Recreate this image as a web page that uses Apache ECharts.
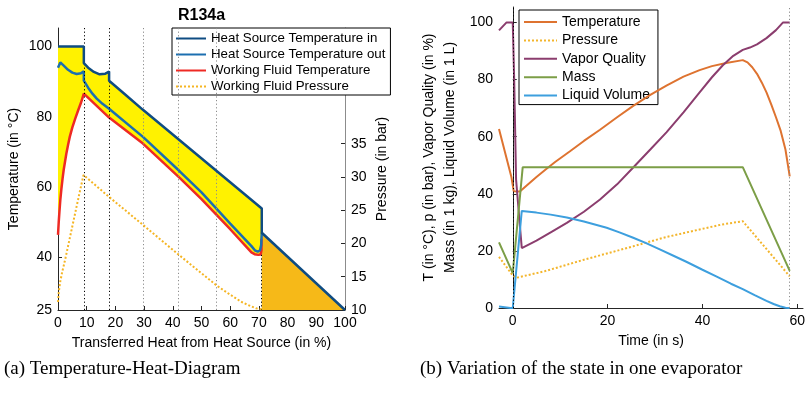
<!DOCTYPE html>
<html>
<head>
<meta charset="utf-8">
<script src="https://cdn.jsdelivr.net/npm/echarts@6/dist/echarts.min.js"></script>
<style>
  html, body { margin: 0; padding: 0; background: #fff; }
  #main { width: 811px; height: 395px; }
</style>
</head>
<body>
<div id="main"></div>
<script>
// ---------- (a) Temperature-Heat-Diagram ----------
// heat source temperature in (x in %, T in °C)
var inX = [0, 9, 9, 10.5, 12.5, 14.5, 16.5, 17.8, 17.8, 23.5, 29.6, 71, 71, 100];
var inT = [100, 100, 95.3, 94.0, 92.8, 92.1, 92.3, 92.9, 90.3, 86.3, 82.0, 53.9, 47.0, 25];
// heat source temperature out
var outX = [0, 0.8, 2, 3.5, 5, 6.5, 8, 9, 9, 10.5, 12, 13.5, 15.5, 17.8, 29.6, 42.4, 50, 60, 67.4, 68.6, 69.6, 70.4, 70.8, 71];
var outT = [94.0, 95.5, 94.6, 93.4, 92.6, 92.2, 92.4, 93.0, 90.3, 88.3, 86.6, 85.2, 83.7, 82.3, 74.3, 64.5, 58.5, 49.6, 43.2, 42.0, 41.6, 42.0, 43.5, 47.0];
// working fluid temperature
var wfX = [0, 0.25, 0.5, 0.8, 1.2, 1.6, 2, 2.5, 2.9, 3.5, 4.1, 5, 6, 7, 8, 9, 17.8, 29.6, 42.4, 50, 60, 67.4, 68.5, 69.8, 70.6, 70.9, 70.9];
var wfT = [46.4, 50, 53, 56.3, 59.6, 62.5, 65, 67.5, 69.5, 72, 74.3, 77, 79.5, 81.8, 84, 86.6, 79.8, 72.4, 62.6, 56.6, 48.0, 41.4, 40.9, 40.7, 40.8, 42, 45.3];
// working fluid pressure (bar)
var wpX = [0, 0.3, 0.8, 1.5, 2.3, 3.5, 5.2, 6.5, 7.6, 8.9, 17.8, 29.6, 41.8, 55.2, 60, 64, 67, 69, 71];
var wpP = [11.2, 12.8, 14.3, 15.8, 17.2, 19.6, 23.0, 25.6, 27.8, 30.3, 27.0, 22.8, 18.4, 13.7, 12.3, 11.2, 10.6, 10.25, 10.1];
// section boundaries
var blackMarks = [9, 17.8];
var grayMarks = [29.6, 41.8, 55.2];
var endMark = 70.9;
var tempTicks = [25, 40, 60, 80, 100];
var presTicks = [10, 15, 20, 25, 30, 35];

// ---------- (b) Variation of the state in one evaporator ----------
var tempTime = [-2.9, -0.3, 0.2, 1.5, 3, 5, 7, 9, 12, 15, 18.4, 22, 25.4, 29, 32.4, 36, 39.4, 42, 45, 48.5, 49.5, 50.5, 51.5, 52.5, 53.5, 54.5, 55.5, 56.5, 57.5, 58.4];
var tempVal = [62.7, 46, 40.9, 40.8, 43, 45.9, 48.6, 51.2, 54.8, 58.5, 62.4, 66.8, 70.8, 74.6, 77.9, 81, 83.3, 84.7, 85.8, 86.8, 86, 84.3, 82, 79, 75.5, 71.3, 66.8, 62, 55.5, 46.1];
var presTime = [-2.9, 0, 0.8, 6.8, 15, 25.4, 32, 39.4, 44, 48.5, 58.4];
var presVal = [17.9, 11.4, 10.6, 12.9, 16.9, 21.6, 24.7, 27.5, 29.2, 30.4, 11.1];
var vapTime = [-2.9, -1.3, 0, 0.3, 0.7, 1.9, 5, 8, 11.4, 15, 18.4, 22, 25.4, 29, 32.4, 36, 39.4, 42, 44.3, 46.5, 48.5, 50, 51.5, 53.5, 55.5, 57, 58.4];
var vapVal = [97.2, 100, 100, 80, 45, 21, 23.6, 26.5, 29.8, 33.7, 38, 43.3, 49.2, 55.5, 61.5, 68.5, 75.5, 80.8, 85, 88.3, 90.4, 91.2, 92.3, 94.5, 97.3, 100, 100];
var massTime = [-2.9, 0, 2.1, 48.5, 58.4];
var massVal = [23.0, 12.2, 49.3, 49.3, 13.0];
var liqTime = [-2.9, -0.5, 0, 1.9, 5, 8, 11.4, 15, 19.8, 22.5, 25.4, 28, 31, 34, 36.6, 40, 42.9, 46, 48.5, 51, 53.5, 55, 56.3, 57.5, 58.4];
var liqVal = [0.5, 0, 0, 34.0, 33.4, 32.7, 31.7, 30.3, 28.1, 26.5, 24.6, 22.8, 20.5, 18.2, 16.2, 13.4, 11.1, 8.5, 6.6, 4.5, 2.5, 1.4, 0.6, 0.1, 0];
var timeTicks = [0, 20, 40, 60];
var stateTicks = [0, 20, 40, 60, 80, 100];
var cycleMarks = [0, 58.4];

function pairs(xs, ys) {
  return xs.map(function(x, i) { return [x, ys[i]]; });
}

var FONT = '"Liberation Sans", Arial, sans-serif';
var AX = '#262626';

// yellow band: heat source in (top) down to working fluid (bottom)
var yellowPts = pairs(inX, inT).filter(function(p) { return p[0] <= 71; })
  .concat(pairs(wfX, wfT).reverse());
// orange triangle under heat source after evaporation
var orangePts = pairs(inX, inT).filter(function(p) { return p[0] >= 71 && p[1] <= 47; })
  .concat([[71, tempTicks[0]]]);

function polygon(pts, color) {
  return {
    type: 'custom', xAxisIndex: 0, yAxisIndex: 0, silent: true, z: 1,
    data: [[50, 60]],
    renderItem: function(params, api) {
      return {
        type: 'polygon',
        shape: { points: pts.map(function(p) { return api.coord(p); }) },
        style: { fill: color }
      };
    }
  };
}

function line(name, data, color, xi, yi, opts) {
  var s = {
    name: name, type: 'line', xAxisIndex: xi, yAxisIndex: yi,
    data: data, symbol: 'none', z: 4,
    lineStyle: { color: color, width: 2 },
    itemStyle: { color: color }
  };
  for (var k in (opts || {})) s[k] = opts[k];
  return s;
}

function valueAxis(extra) {
  var a = {
    type: 'value',
    axisLine: { show: true, lineStyle: { color: AX, width: 1 } },
    axisTick: { show: true, inside: true, length: 4, lineStyle: { color: AX } },
    axisLabel: { color: '#000', fontSize: 14, margin: 6, fontFamily: FONT },
    splitLine: { show: false },
    nameTextStyle: { color: '#000', fontSize: 14, fontFamily: FONT },
    nameLocation: 'middle'
  };
  for (var k in extra) {
    if (typeof extra[k] === 'object' && !Array.isArray(extra[k]) && a[k]) {
      for (var j in extra[k]) a[k][j] = extra[k][j];
    } else {
      a[k] = extra[k];
    }
  }
  return a;
}

var dotted = function(color) { return { type: [1.2, 2.4], color: color, width: 1 }; };

var chart = echarts.init(document.getElementById('main'));
var option = {
  animation: false,
  textStyle: { fontFamily: FONT },
  title: {
    text: 'R134a', left: 178, top: 8, padding: 0,
    textStyle: { fontSize: 16, fontWeight: 'bold', color: '#000', fontFamily: FONT }
  },
  grid: [
    { left: 58, right: 466, top: 28, bottom: 85 },
    { left: 499, right: 8, top: 7, bottom: 87 }
  ],
  legend: [{
    data: ['Heat Source Temperature in', 'Heat Source Temperature out', 'Working Fluid Temperature', 'Working Fluid Pressure'],
    orient: 'vertical', left: 172, top: 28,
    itemWidth: 30, itemHeight: 14, itemGap: 3,
    padding: [4, 5, 2, 3],
    itemStyle: { opacity: 0 },
    borderColor: '#000', borderWidth: 1, backgroundColor: '#fff',
    textStyle: { fontSize: 13.3, color: '#000', fontFamily: FONT }
  }, {
    data: ['Temperature', 'Pressure', 'Vapor Quality', 'Mass', 'Liquid Volume'],
    orient: 'vertical', left: 519, top: 10,
    itemWidth: 33, itemHeight: 14, itemGap: 4.4,
    padding: [5, 8, 2, 4],
    itemStyle: { opacity: 0 },
    borderColor: '#000', borderWidth: 1, backgroundColor: '#fff',
    textStyle: { fontSize: 14, color: '#000', fontFamily: FONT }
  }],
  xAxis: [
    valueAxis({ gridIndex: 0, min: 0, max: 100, interval: 10,
      name: 'Transferred Heat from Heat Source (in %)', nameGap: 26 }),
    valueAxis({ gridIndex: 1, min: -2.9, max: 61.2,
      axisLabel: { customValues: timeTicks },
      axisTick: { customValues: timeTicks },
      name: 'Time (in s)', nameGap: 26 })
  ],
  yAxis: [
    valueAxis({ gridIndex: 0, min: 25, max: 105.3,
      axisLabel: { customValues: tempTicks },
      axisTick: { customValues: tempTicks },
      name: 'Temperature (in °C)', nameGap: 37 }),
    valueAxis({ gridIndex: 0, position: 'right', min: 10, max: 52.4,
      axisLine: { lineStyle: { color: '#8c8c8c', width: 1 } },
      axisLabel: { customValues: presTicks },
      axisTick: { customValues: presTicks, lineStyle: { color: AX } },
      name: 'Pressure (in bar)', nameGap: 30 }),
    valueAxis({ gridIndex: 1, min: 0, max: 105.4,
      axisLabel: { customValues: stateTicks },
      axisTick: { customValues: stateTicks },
      name: 'T (in °C), p (in bar), Vapor Quality (in %)\nMass (in 1 kg), Liquid Volume (in 1 L)',
      nameGap: 38,
      nameTextStyle: { lineHeight: 21 } })
  ],
  graphic: [
    { type: 'text', left: 4, top: 360,
      style: { text: '(a) Temperature-Heat-Diagram', fill: '#000',
        font: '19px "Liberation Serif", "DejaVu Serif", serif' } },
    { type: 'text', left: 420, top: 360,
      style: { text: '(b) Variation of the state in one evaporator', fill: '#000',
        font: '19px "Liberation Serif", "DejaVu Serif", serif' } }
  ],
  series: [
    polygon(yellowPts, '#fff200'),
    polygon(orangePts, '#f6b918'),
    {
      type: 'line', xAxisIndex: 0, yAxisIndex: 0, data: [[50, 60]],
      symbol: 'none', lineStyle: { opacity: 0 }, silent: true, z: 2,
      markLine: {
        symbol: ['none', 'none'], silent: true, label: { show: false },
        animation: false,
        data: blackMarks.map(function(v) { return { xAxis: v, lineStyle: dotted('#000') }; })
          .concat(grayMarks.map(function(v) { return { xAxis: v, lineStyle: dotted('#8c8c8c') }; }))
          .concat([[{ coord: [endMark, 25], lineStyle: dotted('#000') }, { coord: [endMark, 41] }]])
      }
    },
    line('Working Fluid Temperature', pairs(wfX, wfT), '#ee2a24', 0, 0, { z: 3, lineStyle: { color: '#ee2a24', width: 2.5 } }),
    line('Heat Source Temperature out', pairs(outX, outT), '#1c6fb0', 0, 0, { z: 4, lineStyle: { color: '#1c6fb0', width: 2.5 } }),
    line('Heat Source Temperature in', pairs(inX, inT), '#0f4c82', 0, 0, { z: 5, lineStyle: { color: '#0f4c82', width: 2.5 } }),
    line('Working Fluid Pressure', pairs(wpX, wpP), '#f5b523', 0, 1, { z: 6, lineStyle: { color: '#f5b523', width: 2, type: 'dotted' } }),

    {
      type: 'line', xAxisIndex: 1, yAxisIndex: 2, data: [[20, 50]],
      symbol: 'none', lineStyle: { opacity: 0 }, silent: true, z: 2,
      markLine: {
        symbol: ['none', 'none'], silent: true, label: { show: false },
        animation: false,
        data: [
          { xAxis: cycleMarks[0], lineStyle: dotted('#000') },
          { xAxis: cycleMarks[1], lineStyle: dotted('#8c8c8c') }
        ]
      }
    },
    line('Temperature', pairs(tempTime, tempVal), '#de7330', 1, 2),
    line('Pressure', pairs(presTime, presVal), '#f3b52c', 1, 2, { lineStyle: { color: '#f3b52c', width: 2, type: 'dotted' } }),
    line('Vapor Quality', pairs(vapTime, vapVal), '#8b3d6e', 1, 2),
    line('Mass', pairs(massTime, massVal), '#7c9e47', 1, 2),
    line('Liquid Volume', pairs(liqTime, liqVal), '#3d9fde', 1, 2)
  ]
};
chart.setOption(option);
</script>
</body>
</html>
